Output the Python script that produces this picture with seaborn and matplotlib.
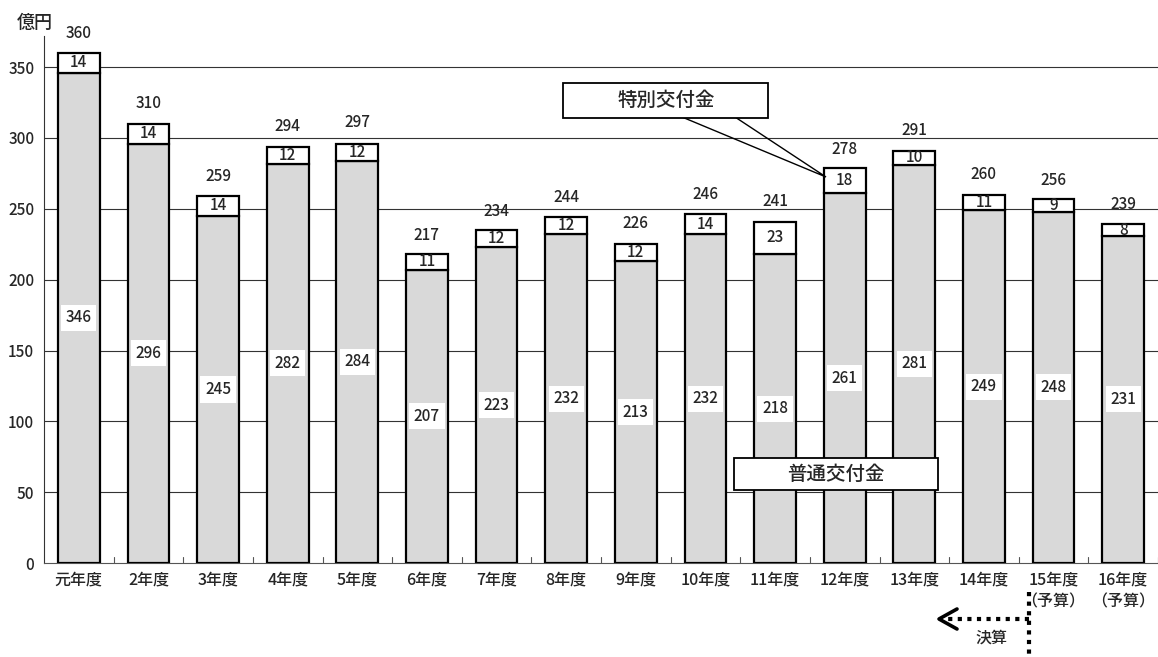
import matplotlib
matplotlib.use("Agg")
import matplotlib.pyplot as plt
from matplotlib.patches import Rectangle, Polygon
import seaborn as sns
import pandas as pd

years = ["元年度", "2年度", "3年度", "4年度", "5年度", "6年度", "7年度", "8年度",
         "9年度", "10年度", "11年度", "12年度", "13年度", "14年度",
         "15年度\n（予算）", "16年度\n（予算）"]
ordinary = [346, 296, 245, 282, 284, 207, 223, 232, 213, 232, 218, 261, 281, 249, 248, 231]
special = [14, 14, 14, 12, 12, 11, 12, 12, 12, 14, 23, 18, 10, 11, 9, 8]
totals = [360, 310, 259, 294, 297, 217, 234, 244, 226, 246, 241, 278, 291, 260, 256, 239]

sns.set_theme(style="white")
plt.rcParams["font.family"] = ["Noto Sans CJK JP", "DejaVu Sans"]
plt.rcParams["font.weight"] = "medium"

W, H = 1158, 657
df = pd.DataFrame({"year": years, "ordinary": ordinary, "special": special, "total": totals})

fig = plt.figure(figsize=(W / 100, H / 100), dpi=100)
ax = fig.add_axes([44 / W, 1 - 563 / H, (W - 44) / W, (563 - 36) / H])


def px(x, y):
    """Pixel position (from the top-left corner) to figure fraction."""
    return x / W, 1 - y / H


sns.barplot(data=df, x="year", y="ordinary", ax=ax, color="#d9d9d9", saturation=1,
            width=0.6, edgecolor="black", linewidth=1.6, zorder=3)
sns.barplot(data=df, x="year", y="special", bottom=df["ordinary"], ax=ax, color="white",
            saturation=1, width=0.6, edgecolor="black", linewidth=1.6, zorder=3)

ax.set_ylim(0, 372)
ax.set_xlim(-0.5, len(years) - 0.5)
ax.set_yticks(range(0, 351, 50))
ax.tick_params(axis="y", labelsize=11, length=4, width=0.8, direction="in", color="#444444", pad=7)
ax.tick_params(axis="x", labelsize=11.5, length=0, pad=6)
ax.set_xlabel("")
ax.set_ylabel("")
for lbl in ax.get_xticklabels():
    lbl.set_linespacing(1.4)
    lbl.set_va("top")

# horizontal reference lines
for v in range(50, 351, 50):
    ax.axhline(v, color="#333333", lw=0.8, zorder=1)

# category separators on the base line
for i in range(len(years)):
    ax.plot([i + 0.5, i + 0.5], [0, 4], color="#555555", lw=0.8, zorder=2, clip_on=False)

for s in ["top", "right"]:
    ax.spines[s].set_visible(False)
ax.spines["left"].set_color("#333333")
ax.spines["left"].set_linewidth(0.8)
ax.spines["bottom"].set_color("#555555")
ax.spines["bottom"].set_linewidth(0.8)

for i, (o, s, t) in enumerate(zip(ordinary, special, totals)):
    ax.text(i, o / 2, f"{o}", ha="center", va="center", fontsize=11, zorder=5,
            bbox=dict(boxstyle="square,pad=0.3", fc="white", ec="none"))
    ax.text(i, o + s / 2, f"{s}", ha="center", va="center", fontsize=11, zorder=5)
    ax.text(i, t + 14, f"{t}", ha="center", va="center", fontsize=11, zorder=5)

fig.text(*px(35, 23), "億円", ha="center", va="center", fontsize=13)

# callout: special grant
fig.patches.append(Polygon([px(682, 117), px(826, 177), px(735, 117)], closed=False,
                           transform=fig.transFigure, fill=False, ec="black", lw=1.0, zorder=6))
fig.patches.append(Rectangle(px(563, 118), 205 / W, 35 / H, transform=fig.transFigure,
                             fc="white", ec="black", lw=1.3, zorder=7))
fig.text(*px(666, 100), "特別交付金", ha="center", va="center", fontsize=14, zorder=8)

# callout: ordinary grant
fig.patches.append(Rectangle(px(734, 490), 204 / W, 32 / H, transform=fig.transFigure,
                             fc="white", ec="black", lw=1.3, zorder=7))
fig.text(*px(836, 474), "普通交付金", ha="center", va="center", fontsize=14, zorder=8)

# settled-accounts marker below the axis
dots = (0, (1, 1.3))
fig.lines.append(plt.Line2D([1029 / W, 1029 / W], [1 - 592 / H, 0], transform=fig.transFigure,
                            color="black", lw=3, linestyle=dots))
fig.lines.append(plt.Line2D([1029 / W, 945 / W], [1 - 619 / H, 1 - 619 / H], transform=fig.transFigure,
                            color="black", lw=3, linestyle=dots))
fig.lines.append(plt.Line2D([957 / W, 939 / W, 957 / W],
                            [1 - 609 / H, 1 - 619 / H, 1 - 629 / H], transform=fig.transFigure,
                            color="black", lw=2.6))
fig.text(*px(991, 638), "決算", ha="center", va="center", fontsize=11.5)

fig.savefig("out.png", dpi=100)
